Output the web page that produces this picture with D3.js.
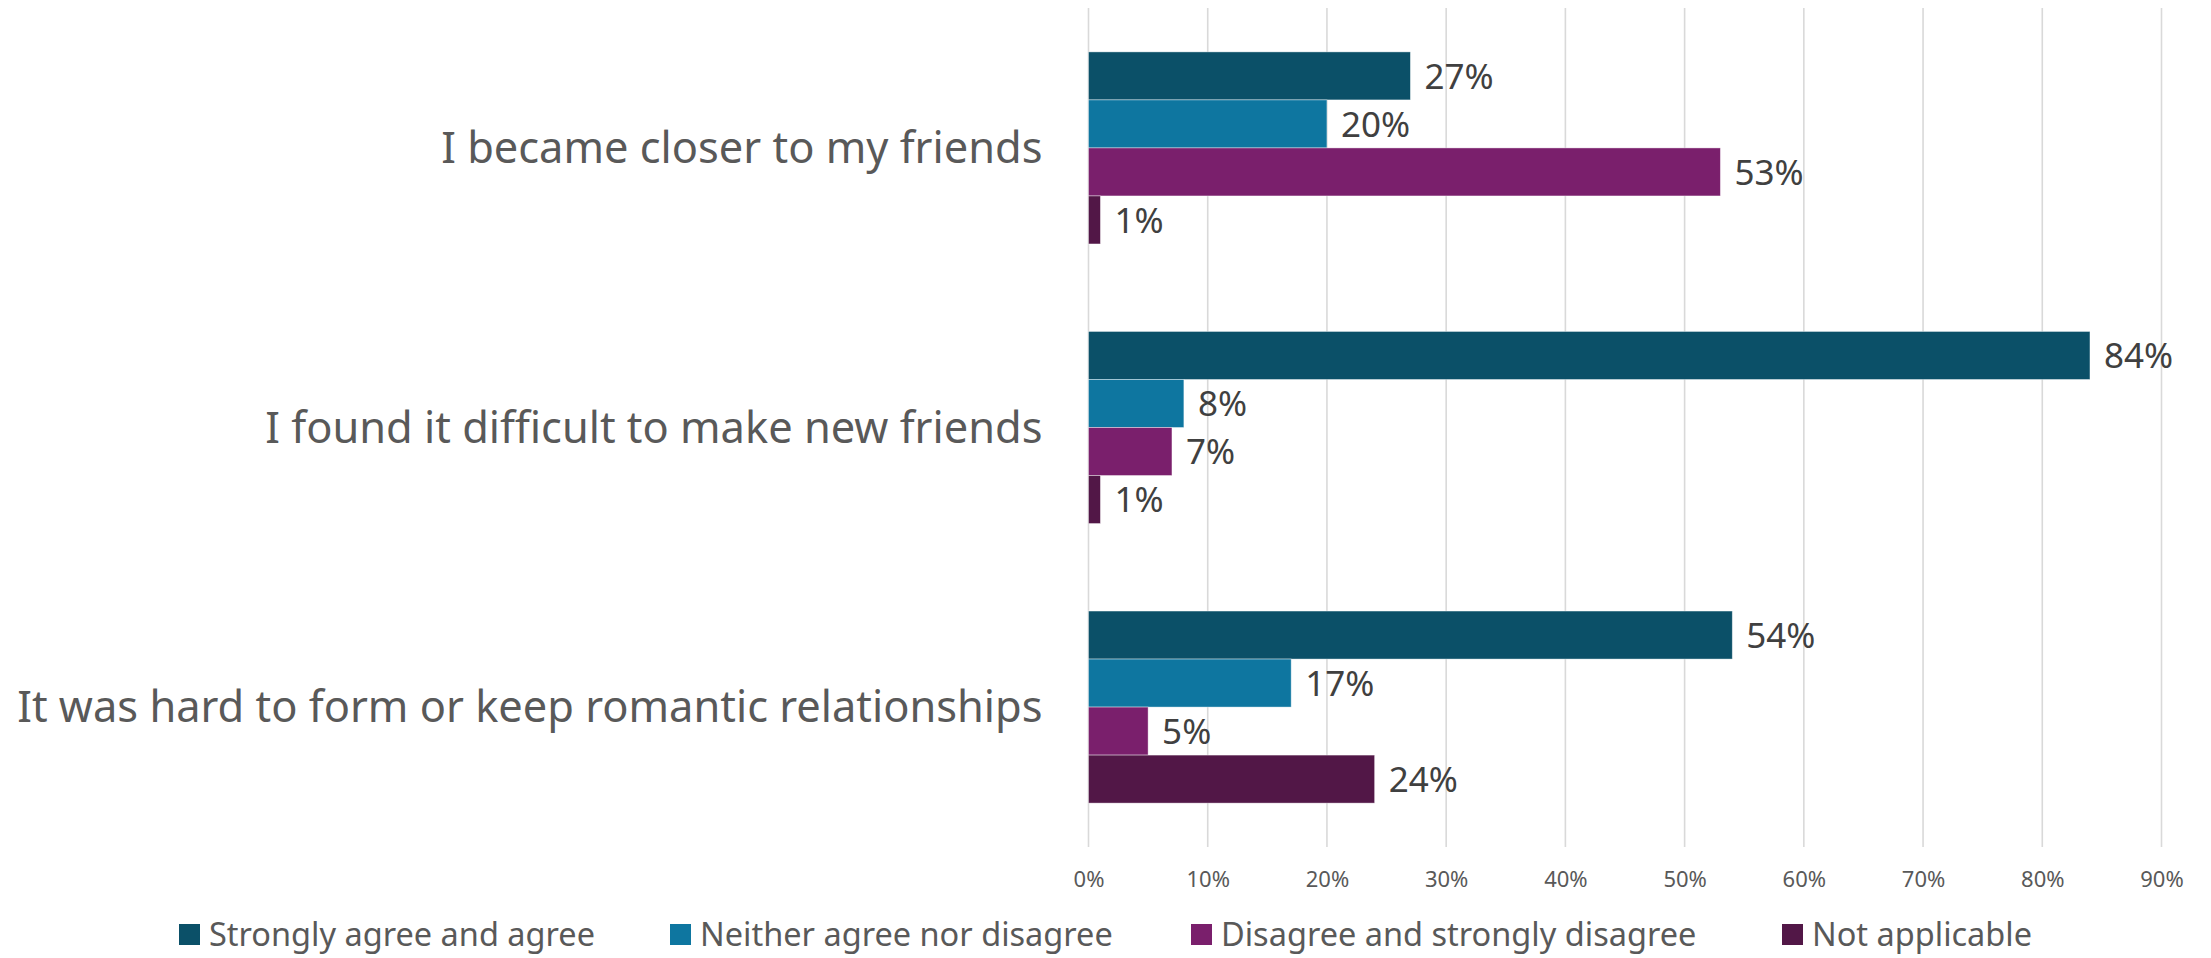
<!DOCTYPE html>
<html>
<head>
<meta charset="utf-8">
<script src="https://cdn.jsdelivr.net/npm/d3@7"></script>
<style>
  html, body { margin: 0; padding: 0; background: #fff; }
  svg { display: block; }
  text { font-family: "Noto Sans", "Open Sans", sans-serif; }
</style>
</head>
<body>
<svg id="chart" width="2211" height="958"></svg>
<script>
// Survey statements (y categories)
const statements = [
  "I became closer to my friends",
  "I found it difficult to make new friends",
  "It was hard to form or keep romantic relationships"
];

// Response series
const seriesNames = [
  "Strongly agree and agree",
  "Neither agree nor disagree",
  "Disagree and strongly disagree",
  "Not applicable"
];
const seriesColors = ["#0B5068", "#0E76A0", "#7A1F6C", "#521747"];

// Share of respondents per statement, one array per series
const agreeValues    = [0.27, 0.84, 0.54];
const neitherValues  = [0.20, 0.08, 0.17];
const disagreeValues = [0.53, 0.07, 0.05];
const notApplicValues = [0.01, 0.01, 0.24];

const xTicks = [0, 0.1, 0.2, 0.3, 0.4, 0.5, 0.6, 0.7, 0.8, 0.9];

const seriesValues = [agreeValues, neitherValues, disagreeValues, notApplicValues];

const svg = d3.select("#chart");
const plot = { left: 1088.5, right: 2161.5, top: 8, bottom: 847 };

const x = d3.scaleLinear().domain([0, 0.9]).range([plot.left, plot.right]);
const y = d3.scaleBand().domain(statements).range([plot.top, plot.bottom]).paddingInner(0.313).paddingOuter(0.157);
const ySub = d3.scaleBand().domain(seriesNames).range([0, y.bandwidth()]);

// vertical gridlines
svg.append("g")
  .selectAll("line")
  .data(xTicks)
  .join("line")
  .attr("x1", d => x(d)).attr("x2", d => x(d))
  .attr("y1", plot.top).attr("y2", plot.bottom)
  .attr("stroke", "#D9D9D9")
  .attr("stroke-width", 1.6);

// x axis tick labels
const xAxis = d3.axisBottom(x).tickValues(xTicks).tickFormat(d3.format(".0%")).tickSize(0).tickPadding(0);
const gx = svg.append("g").attr("transform", `translate(0,${plot.bottom + 24})`).call(xAxis);
gx.select(".domain").remove();
gx.selectAll("text")
  .attr("font-size", 22)
  .attr("fill", "#595959")
  .attr("font-family", "\"Noto Sans\", sans-serif");

// category labels
svg.append("g")
  .selectAll("text")
  .data(statements)
  .join("text")
  .attr("x", plot.left - 46)
  .attr("y", d => y(d) + y.bandwidth() / 2)
  .attr("dy", "0.35em")
  .attr("text-anchor", "end")
  .attr("font-size", 43.4)
  .attr("fill", "#595959")
  .text(d => d);

// bars + value labels
const rows = [];
statements.forEach((s, i) => {
  seriesNames.forEach((n, j) => {
    rows.push({ statement: s, series: n, value: seriesValues[j][i], color: seriesColors[j] });
  });
});

const barG = svg.append("g");
barG.selectAll("rect")
  .data(rows)
  .join("rect")
  .attr("x", x(0))
  .attr("y", d => y(d.statement) + ySub(d.series))
  .attr("width", d => x(d.value) - x(0))
  .attr("height", ySub.bandwidth())
  .attr("fill", d => d.color)
  .attr("stroke", "#ffffff")
  .attr("stroke-opacity", 0.5)
  .attr("stroke-width", 0.8);

barG.selectAll("text")
  .data(rows)
  .join("text")
  .attr("x", d => x(d.value) + 14)
  .attr("y", d => y(d.statement) + ySub(d.series) + ySub.bandwidth() / 2)
  .attr("dy", "0.36em")
  .attr("font-size", 35)
  .attr("fill", "#404040")
  .text(d => d3.format(".0%")(d.value));

// legend
const legendX = [179, 670, 1191, 1782];
const legend = svg.append("g");
const li = legend.selectAll("g")
  .data(seriesNames)
  .join("g")
  .attr("transform", (d, i) => `translate(${legendX[i]},935)`);
li.append("rect")
  .attr("x", 0).attr("y", -11)
  .attr("width", 21).attr("height", 21)
  .attr("fill", (d, i) => seriesColors[i]);
li.append("text")
  .attr("x", 30).attr("y", 0)
  .attr("dy", "0.35em")
  .attr("font-size", 32.5)
  .attr("fill", "#595959")
  .text(d => d);
</script>
</body>
</html>
